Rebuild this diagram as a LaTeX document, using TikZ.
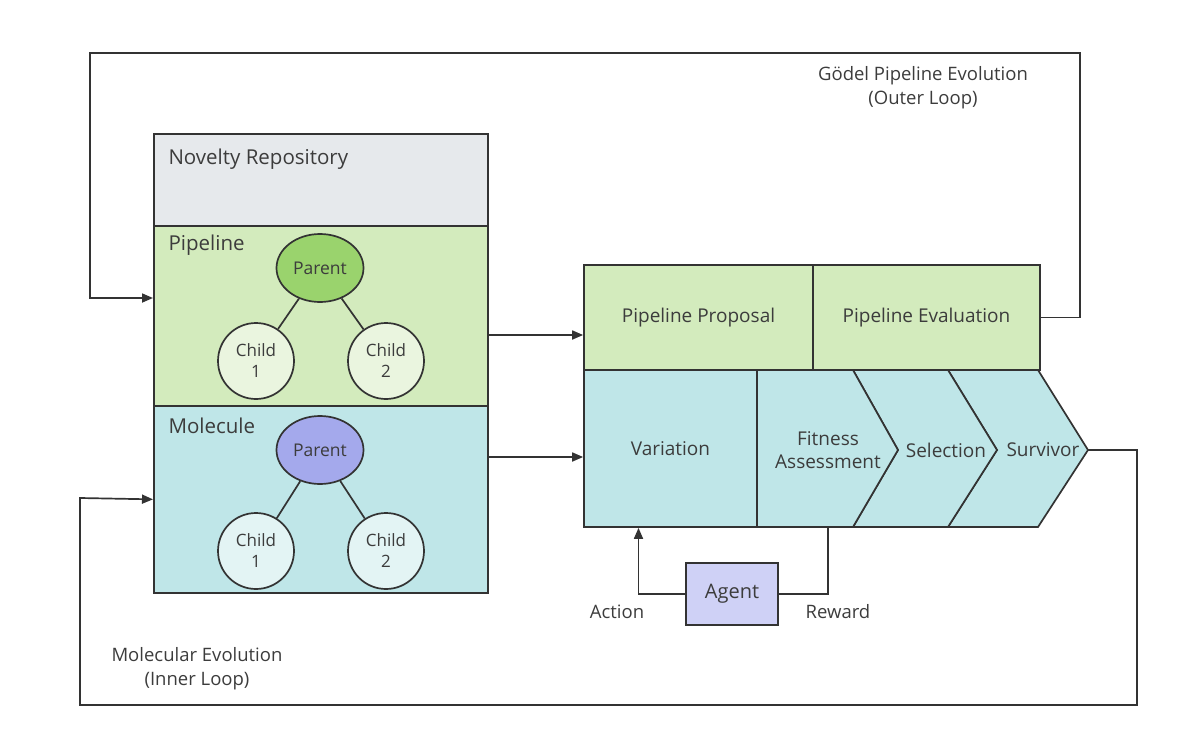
\documentclass[tikz,border=0pt]{standalone}
\usepackage{fontspec}
\setmainfont{Open Sans}
\usepackage{tikz}
\usetikzlibrary{arrows.meta,positioning,calc,shapes.geometric}
\definecolor{Ink}{HTML}{333333}
\definecolor{TextInk}{HTML}{3C3C3C}
\definecolor{RepoGray}{HTML}{E6E9EC}
\definecolor{PipeGreen}{HTML}{D3EBBD}
\definecolor{ParentGreen}{HTML}{9AD36D}
\definecolor{ChildGreen}{HTML}{EAF5DF}
\definecolor{MolTeal}{HTML}{BFE6E8}
\definecolor{ParentPurple}{HTML}{A4A9EC}
\definecolor{ChildTeal}{HTML}{E3F4F4}
\definecolor{AgentPurple}{HTML}{CFD1F6}
\tikzset{
  panel/.style={draw=Ink,line width=1.7pt,anchor=north west,inner sep=0pt},
  stage/.style={draw=Ink,line width=1.7pt,minimum height=105pt,minimum width=228pt,inner sep=0pt,font=\fontsize{19}{23}\selectfont,text=TextInk},
  stagetext/.style={align=center,font=\fontsize{19}{23}\selectfont,text=TextInk},
  parentnode/.style={ellipse,draw=Ink,line width=1.7pt,minimum width=87pt,minimum height=68pt,inner sep=0pt,font=\fontsize{17.5}{20}\selectfont,text=TextInk},
  childnode/.style={circle,draw=Ink,line width=1.7pt,minimum size=76pt,inner sep=0pt,align=center,font=\fontsize{17}{21}\selectfont,text=TextInk},
  tag/.style={anchor=west,font=\fontsize{20.5}{24}\selectfont,text=TextInk},
  note/.style={align=center,font=\fontsize{18.5}{24}\selectfont,text=TextInk},
  link/.style={draw=Ink,line width=1.7pt},
  arrow/.style={link,-{Triangle[length=11pt,width=9pt]}}
}
\begin{document}
\begin{tikzpicture}[x=1pt,y=-1pt]
  \useasboundingbox (0,0) rectangle (1200,739);
  % left column
  \node[panel,fill=RepoGray,minimum width=334pt,minimum height=92pt] (novelty) at (153,133) {};
  \node[tag] (novtag) at (165,159) {Novelty Repository};
  \node[panel,fill=PipeGreen,minimum width=334pt,minimum height=180pt] (pipebox) at (153,225) {};
  \node[tag] (pipetag) at (165,245) {Pipeline};
  \node[panel,fill=MolTeal,minimum width=334pt,minimum height=187pt] (molbox) at (153,405) {};
  \node[tag] (moltag) at (165,426) {Molecule};

  \node[parentnode,fill=ParentGreen] (pparent) at (320,268) {Parent};
  \node[childnode,fill=ChildGreen] (pchild1) at (256,361) {Child\\1};
  \node[childnode,fill=ChildGreen] (pchild2) at (386,361) {Child\\2};
  \draw[link] (pparent) -- (pchild1);
  \draw[link] (pparent) -- (pchild2);

  \node[parentnode,fill=ParentPurple] (mparent) at (320,450) {Parent};
  \node[childnode,fill=ChildTeal] (mchild1) at (256,551) {Child\\1};
  \node[childnode,fill=ChildTeal] (mchild2) at (386,551) {Child\\2};
  \draw[link] (mparent) -- (mchild1);
  \draw[link] (mparent) -- (mchild2);

  % right column
  \node[stage,fill=PipeGreen,minimum width=229pt] (proposal) at (698.5,317.5) {Pipeline Proposal};
  \node[stage,fill=PipeGreen,minimum width=227pt] (evaluation) at (926.5,317.5) {Pipeline Evaluation};
  \node[stage,fill=MolTeal,minimum width=173pt,minimum height=157pt] (variation) at (670.5,448.5) {Variation};
  \draw[link,fill=MolTeal] (1038,370) -- (1088,450) -- (1038,527) -- (948,527) -- (997,450) -- (948,370) -- cycle;
  \draw[link,fill=MolTeal] (948,370) -- (997,450) -- (948,527) -- (853,527) -- (898,450) -- (853,370) -- cycle;
  \draw[link,fill=MolTeal] (757,370) -- (853,370) -- (898,450) -- (853,527) -- (757,527) -- cycle;
  \node[stagetext] (fitness) at (828,450) {Fitness\\Assessment};
  \node[stagetext] (selection) at (946,450) {Selection};
  \node[stagetext] (survivor) at (1043,450) {Survivor};
  \coordinate (survtip) at (1088,450);
  \coordinate (fitbot) at (828,527);

  \node[draw=Ink,line width=1.7pt,fill=AgentPurple,minimum width=92pt,minimum height=62pt,font=\fontsize{20}{24}\selectfont,text=TextInk] (agent) at (732,594) {Agent};
  \node[note] (action) at (617,612) {Action};
  \node[note] (reward) at (838,612) {Reward};

  % connectors
  \coordinate (outerin) at (90,298);
  \coordinate (pipein) at (490,335);
  \coordinate (molin) at (490,457);
  \draw[arrow] (pipebox.east |- pipein) -- (proposal.west |- pipein);
  \draw[arrow] (molbox.east |- molin) -- (variation.west |- molin);
  \draw[arrow] (evaluation.east) -| (1080,53) -| (outerin) -- (pipebox.west |- outerin);
  \draw[arrow] (survtip) -| (1137,705) -| (80,498) -- (molbox.west);
  \draw[arrow] (agent.west) -| ([xshift=-32pt]variation.south);
  \draw[link] (agent.east) -| (fitbot);

  \node[note] (outerlbl) at (923,88) {Gödel Pipeline Evolution\\(Outer Loop)};
  \node[note] (innerlbl) at (197,669) {Molecular Evolution\\(Inner Loop)};
\end{tikzpicture}
\end{document}
